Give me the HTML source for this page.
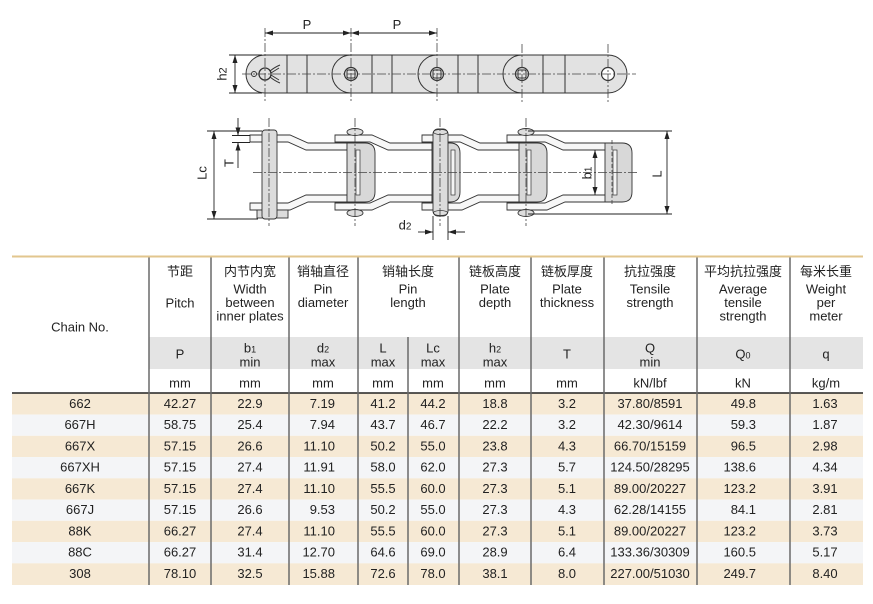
<!DOCTYPE html>
<html><head><meta charset="utf-8"><style>
html,body{margin:0;padding:0;background:#fff;}
svg{display:block;}
text{font-family:"Liberation Sans","Noto Sans CJK SC",sans-serif;fill:#222;}
</style></head><body>
<svg width="873" height="604" viewBox="0 0 873 604" xmlns="http://www.w3.org/2000/svg">
<defs>
<marker id="ar" viewBox="0 0 8 6" refX="8" refY="3" markerWidth="8" markerHeight="6" orient="auto-start-reverse" markerUnits="userSpaceOnUse"><path d="M0,0.5 L8,3 L0,5.5 z" fill="#222"/></marker>
</defs>

<!-- ============ TOP DRAWING ============ -->
<g stroke="#333" stroke-width="1" fill="none">
  <path d="M265,55 H608 A19,19 0 0 1 608,93 H265 A19,19 0 0 1 265,55 Z" fill="#e2e2e2"/>
  <path d="M351,55 A19,19 0 0 0 351,93"/>
  <path d="M437,55 A19,19 0 0 0 437,93"/>
  <path d="M522,55 A19,19 0 0 0 522,93"/>
  <path d="M287,55V93M307,55V93M372,55V93M392,55V93M458,55V93M478,55V93M543,55V93M565,55V93"/>
  <!-- holes -->
  <circle cx="265" cy="74" r="6" fill="#e2e2e2" stroke-width="1.3"/>
  <circle cx="254" cy="74" r="2.5" stroke-width="1"/>
  <path d="M270,71 Q275,67 280,65 M270,77 Q275,81 280,83 M271,73 L279,68 M271,75 L279,80" stroke-width="1"/>
  <circle cx="351" cy="74" r="6.5" stroke-width="1.2"/>
  <rect x="347" y="70" width="8" height="8" rx="1.5" stroke-width="1"/>
  <circle cx="437" cy="74" r="6.5" stroke-width="1.2"/>
  <rect x="433" y="70" width="8" height="8" rx="1.5" stroke-width="1"/>
  <circle cx="522" cy="74" r="6.5" stroke-width="1.2"/>
  <rect x="518" y="70" width="8" height="8" rx="1.5" stroke-width="1"/>
  <circle cx="608" cy="74" r="6.5" fill="#fff" stroke-width="1.2"/>
</g>
<g stroke="#444" stroke-width="0.8" fill="none" stroke-dasharray="9,2,2,2">
  <path d="M242,74 H636"/>
  <path d="M265,28 V103 M351,28 V103 M437,28 V103 M522,44 V103 M608,44 V103"/>
</g>
<g stroke="#222" stroke-width="0.9" fill="none">
  <line x1="265" y1="33" x2="351" y2="33" marker-start="url(#ar)" marker-end="url(#ar)"/>
  <line x1="351" y1="33" x2="437" y2="33" marker-start="url(#ar)" marker-end="url(#ar)"/>
  <path d="M229,55 H262 M229,93 H262"/>
  <line x1="235" y1="55" x2="235" y2="93" marker-start="url(#ar)" marker-end="url(#ar)"/>
</g>
<text x="307" y="29" font-size="13" text-anchor="middle">P</text>
<text x="397" y="29" font-size="13" text-anchor="middle">P</text>
<text transform="translate(226.5,74) rotate(-90)" font-size="13" text-anchor="middle">h<tspan font-size="11">2</tspan></text>

<!-- ============ BOTTOM DRAWING ============ -->
<g stroke="#333" stroke-width="0.9" fill="#f7f7f7">
  <g id="half">
    <path d="M250,135 H290 L308,143 H347 V150 H306 L288,142 H250 Z"/>
    <path d="M335,135 H372 L390,143 H432 V150 H388 L370,142 H335 Z"/>
    <path d="M422,135 H462 L480,143 H520 V150 H478 L460,142 H422 Z"/>
    <path d="M507,135 H547 L565,143 H615 V150 H563 L545,142 H507 Z"/>
    <ellipse cx="355" cy="132" rx="8" ry="3.5" fill="#ddd"/>
    <ellipse cx="526" cy="132" rx="8" ry="3.5" fill="#ddd"/>
  </g>
  <use href="#half" transform="translate(0,345) scale(1,-1)"/>
  <!-- barrels -->
  <path d="M347,143 H365 Q375,143 375,153 V192 Q375,202 365,202 H347 Z" fill="#d8d8d8"/>
  <rect x="356" y="150" width="4" height="45" fill="#f4f4f4" stroke-width="0.7"/>
  <path d="M432,143 H450 Q460,143 460,153 V192 Q460,202 450,202 H432 Z" fill="#d8d8d8"/>
  <rect x="451" y="150" width="4" height="45" fill="#f4f4f4" stroke-width="0.7"/>
  <path d="M519,143 H537 Q547,143 547,153 V192 Q547,202 537,202 H519 Z" fill="#d8d8d8"/>
  <rect x="527" y="150" width="4" height="45" fill="#f4f4f4" stroke-width="0.7"/>
  <path d="M605,143 H622 Q632,143 632,153 V192 Q632,202 622,202 H605 Z" fill="#d8d8d8"/>
  <rect x="613" y="150" width="4" height="45" fill="#f4f4f4" stroke-width="0.7"/>
  <!-- pin 1 -->
  <rect x="257" y="210" width="31" height="8" fill="#dcdcdc"/>
  <rect x="262" y="130" width="15" height="89" rx="3" fill="#dcdcdc"/>
  <!-- pin 3 -->
  <rect x="433" y="129" width="15" height="87" rx="5" fill="#dcdcdc"/>
  <ellipse cx="440.5" cy="132" rx="7" ry="2.5" fill="none" stroke-width="0.7"/>
  <ellipse cx="440.5" cy="213" rx="7" ry="2.5" fill="none" stroke-width="0.7"/>
</g>
<g stroke="#444" stroke-width="0.8" fill="none" stroke-dasharray="9,2,2,2">
  <path d="M253,172.5 H637"/>
  <path d="M269,118 V226 M355,118 V226 M440,118 V226 M526,118 V226"/>
</g>
<path d="M612,140 V205" stroke="#444" stroke-width="0.8" stroke-dasharray="4,2"/>
<g stroke="#222" stroke-width="0.9" fill="none">
  <path d="M207,131 H262 M207,219 H258"/>
  <line x1="214" y1="131" x2="214" y2="219" marker-start="url(#ar)" marker-end="url(#ar)"/>
  <path d="M232,135.5 H250 M232,142.5 H250"/>
  <line x1="238" y1="118" x2="238" y2="135.5" marker-end="url(#ar)"/>
  <line x1="238" y1="168" x2="238" y2="142.5" marker-end="url(#ar)"/>
  <path d="M528,131 H672 M528,214 H672"/>
  <line x1="667" y1="131" x2="667" y2="214" marker-start="url(#ar)" marker-end="url(#ar)"/>
  <line x1="595" y1="150" x2="595" y2="195" marker-start="url(#ar)" marker-end="url(#ar)"/>
  <path d="M433,216 V240 M448,216 V240"/>
  <line x1="418" y1="232" x2="433" y2="232" marker-end="url(#ar)"/>
  <line x1="465" y1="232" x2="448" y2="232" marker-end="url(#ar)"/>
</g>
<text transform="translate(206.5,173) rotate(-90)" font-size="13" text-anchor="middle">Lc</text>
<text transform="translate(233.5,163) rotate(-90)" font-size="13" text-anchor="middle">T</text>
<text transform="translate(661.5,174) rotate(-90)" font-size="13" text-anchor="middle">L</text>
<text transform="translate(591.5,173) rotate(-90)" font-size="13" text-anchor="middle">b<tspan font-size="10">1</tspan></text>
<text x="405" y="229.5" font-size="13" text-anchor="middle">d<tspan font-size="10">2</tspan></text>

<!-- ============ TABLE ============ -->
<rect x="149" y="337" width="714" height="32" fill="#e4e4e4"/>
<g>
  <rect x="12" y="393.3" width="851" height="21.25" fill="#f6e9d4"/>
  <rect x="12" y="414.55" width="851" height="21.25" fill="#f4f5f7"/>
  <rect x="12" y="435.8" width="851" height="21.25" fill="#f6e9d4"/>
  <rect x="12" y="457.05" width="851" height="21.25" fill="#f4f5f7"/>
  <rect x="12" y="478.3" width="851" height="21.25" fill="#f6e9d4"/>
  <rect x="12" y="499.55" width="851" height="21.25" fill="#f4f5f7"/>
  <rect x="12" y="520.8" width="851" height="21.25" fill="#f6e9d4"/>
  <rect x="12" y="542.05" width="851" height="21.25" fill="#f4f5f7"/>
  <rect x="12" y="563.3" width="851" height="21.7" fill="#f6e9d4"/>
</g>
<line x1="12" y1="256.5" x2="863" y2="256.5" stroke="#e2c68e" stroke-width="2"/>
<line x1="12" y1="393" x2="863" y2="393" stroke="#222" stroke-width="1.5"/>
<g stroke="#6a6a6a" stroke-width="1.5">
  <path d="M149,257.5V585 M211,257.5V585 M289,257.5V585 M358,257.5V585 M459,257.5V585 M531,257.5V585 M604,257.5V585 M697,257.5V585 M790,257.5V585"/>
  <path d="M408,337V585"/>
</g>

<g font-size="13" text-anchor="middle">
  <!-- Chinese header -->
  <text x="180" y="276">节距</text>
  <text x="250" y="276">内节内宽</text>
  <text x="323" y="276">销轴直径</text>
  <text x="408" y="276">销轴长度</text>
  <text x="495" y="276">链板高度</text>
  <text x="567" y="276">链板厚度</text>
  <text x="650" y="276">抗拉强度</text>
  <text x="743" y="276">平均抗拉强度</text>
  <text x="826" y="276">每米长重</text>
  <!-- English header -->
  <text x="80" y="331.5">Chain No.</text>
  <text x="180" y="307.5">Pitch</text>
  <text x="250" y="293.5">Width</text>
  <text x="250" y="307">between</text>
  <text x="250" y="320.5">inner plates</text>
  <text x="323" y="293.5">Pin</text>
  <text x="323" y="307">diameter</text>
  <text x="408" y="293.5">Pin</text>
  <text x="408" y="307">length</text>
  <text x="495" y="293.5">Plate</text>
  <text x="495" y="307">depth</text>
  <text x="567" y="293.5">Plate</text>
  <text x="567" y="307">thickness</text>
  <text x="650" y="293.5">Tensile</text>
  <text x="650" y="307">strength</text>
  <text x="743" y="293.5">Average</text>
  <text x="743" y="307">tensile</text>
  <text x="743" y="320.5">strength</text>
  <text x="826" y="293.5">Weight</text>
  <text x="826" y="307">per</text>
  <text x="826" y="320.5">meter</text>
  <!-- symbols -->
  <text x="180" y="358.5">P</text>
  <text x="250" y="352.5">b<tspan font-size="9">1</tspan></text>
  <text x="250" y="366.5">min</text>
  <text x="323" y="352.5">d<tspan font-size="9">2</tspan></text>
  <text x="323" y="366.5">max</text>
  <text x="383" y="352.5">L</text>
  <text x="383" y="366.5">max</text>
  <text x="433" y="352.5">Lc</text>
  <text x="433" y="366.5">max</text>
  <text x="495" y="352.5">h<tspan font-size="9">2</tspan></text>
  <text x="495" y="366.5">max</text>
  <text x="567" y="358.5">T</text>
  <text x="650" y="352.5">Q</text>
  <text x="650" y="366.5">min</text>
  <text x="743" y="358.5">Q<tspan font-size="9">0</tspan></text>
  <text x="826" y="358.5">q</text>
  <!-- units -->
  <text x="180" y="387.5">mm</text>
  <text x="250" y="387.5">mm</text>
  <text x="323" y="387.5">mm</text>
  <text x="383" y="387.5">mm</text>
  <text x="433" y="387.5">mm</text>
  <text x="495" y="387.5">mm</text>
  <text x="567" y="387.5">mm</text>
  <text x="650" y="387.5">kN/lbf</text>
  <text x="743" y="387.5">kN</text>
  <text x="826" y="387.5">kg/m</text>
</g>

<g font-size="13" text-anchor="middle">
  <g transform="translate(0,408)">
    <text x="80">662</text><text x="180">42.27</text><text x="250">22.9</text><text x="335" text-anchor="end">7.19</text><text x="383">41.2</text><text x="433">44.2</text><text x="495">18.8</text><text x="567">3.2</text><text x="650">37.80/8591</text><text x="756" text-anchor="end">49.8</text><text x="825">1.63</text>
  </g>
  <g transform="translate(0,429.2)">
    <text x="80">667H</text><text x="180">58.75</text><text x="250">25.4</text><text x="335" text-anchor="end">7.94</text><text x="383">43.7</text><text x="433">46.7</text><text x="495">22.2</text><text x="567">3.2</text><text x="650">42.30/9614</text><text x="756" text-anchor="end">59.3</text><text x="825">1.87</text>
  </g>
  <g transform="translate(0,450.5)">
    <text x="80">667X</text><text x="180">57.15</text><text x="250">26.6</text><text x="335" text-anchor="end">11.10</text><text x="383">50.2</text><text x="433">55.0</text><text x="495">23.8</text><text x="567">4.3</text><text x="650">66.70/15159</text><text x="756" text-anchor="end">96.5</text><text x="825">2.98</text>
  </g>
  <g transform="translate(0,471.7)">
    <text x="80">667XH</text><text x="180">57.15</text><text x="250">27.4</text><text x="335" text-anchor="end">11.91</text><text x="383">58.0</text><text x="433">62.0</text><text x="495">27.3</text><text x="567">5.7</text><text x="650">124.50/28295</text><text x="756" text-anchor="end">138.6</text><text x="825">4.34</text>
  </g>
  <g transform="translate(0,493)">
    <text x="80">667K</text><text x="180">57.15</text><text x="250">27.4</text><text x="335" text-anchor="end">11.10</text><text x="383">55.5</text><text x="433">60.0</text><text x="495">27.3</text><text x="567">5.1</text><text x="650">89.00/20227</text><text x="756" text-anchor="end">123.2</text><text x="825">3.91</text>
  </g>
  <g transform="translate(0,514.2)">
    <text x="80">667J</text><text x="180">57.15</text><text x="250">26.6</text><text x="335" text-anchor="end">9.53</text><text x="383">50.2</text><text x="433">55.0</text><text x="495">27.3</text><text x="567">4.3</text><text x="650">62.28/14155</text><text x="756" text-anchor="end">84.1</text><text x="825">2.81</text>
  </g>
  <g transform="translate(0,535.5)">
    <text x="80">88K</text><text x="180">66.27</text><text x="250">27.4</text><text x="335" text-anchor="end">11.10</text><text x="383">55.5</text><text x="433">60.0</text><text x="495">27.3</text><text x="567">5.1</text><text x="650">89.00/20227</text><text x="756" text-anchor="end">123.2</text><text x="825">3.73</text>
  </g>
  <g transform="translate(0,556.7)">
    <text x="80">88C</text><text x="180">66.27</text><text x="250">31.4</text><text x="335" text-anchor="end">12.70</text><text x="383">64.6</text><text x="433">69.0</text><text x="495">28.9</text><text x="567">6.4</text><text x="650">133.36/30309</text><text x="756" text-anchor="end">160.5</text><text x="825">5.17</text>
  </g>
  <g transform="translate(0,578)">
    <text x="80">308</text><text x="180">78.10</text><text x="250">32.5</text><text x="335" text-anchor="end">15.88</text><text x="383">72.6</text><text x="433">78.0</text><text x="495">38.1</text><text x="567">8.0</text><text x="650">227.00/51030</text><text x="756" text-anchor="end">249.7</text><text x="825">8.40</text>
  </g>
</g>
</svg>
</body></html>
